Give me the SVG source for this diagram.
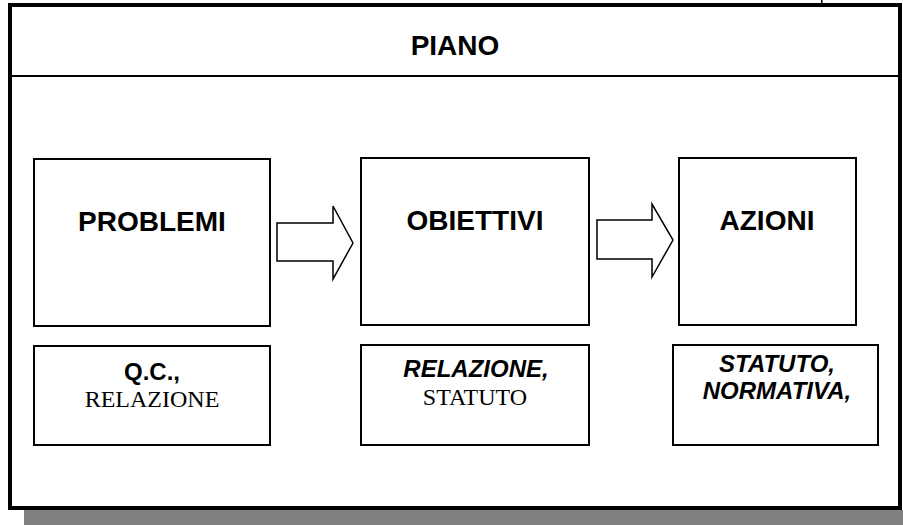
<svg xmlns="http://www.w3.org/2000/svg" width="903" height="525" viewBox="0 0 903 525">
<style>
.box{fill:#fff;stroke:#000;stroke-width:2}
.arrow{fill:#fff;stroke:#000;stroke-width:1.5;stroke-linejoin:miter}
.title{font-family:"Liberation Sans",Arial,sans-serif;font-weight:bold;font-size:28px;text-anchor:middle;fill:#000}
.b{font-family:"Liberation Sans",Arial,sans-serif;font-weight:bold;font-size:24px;text-anchor:middle;fill:#000}
.bi{font-family:"Liberation Sans",Arial,sans-serif;font-weight:bold;font-style:italic;font-size:24px;text-anchor:middle;fill:#000}
.t{font-family:"Liberation Serif","Times New Roman",serif;font-size:24px;text-anchor:middle;fill:#000}
</style>
<rect x="0" y="0" width="903" height="525" fill="#fff"/>
<rect x="24" y="510" width="879" height="15" fill="#808080"/>
<rect x="821" y="0" width="1.5" height="3" fill="#000"/>
<g id="piano">
<rect x="10" y="5" width="890" height="503" fill="#fff" stroke="#000" stroke-width="4"/>
<line x1="10" y1="76" x2="900" y2="76" stroke="#000" stroke-width="2"/>
<text class="title" x="455" y="55">PIANO</text>
</g>
<g id="connectors">
<polygon class="arrow" points="277,223 333,223 333,206 353,243 333,279 333,261 277,261"/>
<polygon class="arrow" points="597,220 652,220 652,204 673,240 652,277 652,259 597,259"/>
</g>
<g id="problemi">
<rect class="box" x="34" y="159" width="236" height="167"/>
<text class="title" x="152" y="231">PROBLEMI</text>
</g>
<g id="obiettivi">
<rect class="box" x="361" y="158" width="228" height="167"/>
<text class="title" x="475" y="230">OBIETTIVI</text>
</g>
<g id="azioni">
<rect class="box" x="679" y="158" width="177" height="167"/>
<text class="title" x="767" y="230">AZIONI</text>
</g>
<g id="qc">
<rect class="box" x="34" y="346" width="236" height="99"/>
<text class="b" x="152" y="380">Q.C.,</text>
<text class="t" x="152" y="407">RELAZIONE</text>
</g>
<g id="relazione">
<rect class="box" x="361" y="345" width="228" height="100"/>
<text class="bi" x="476" y="377">RELAZIONE,</text>
<text class="t" x="475" y="405">STATUTO</text>
</g>
<g id="statuto">
<rect class="box" x="673" y="345" width="205" height="100"/>
<text class="bi" x="777" y="372">STATUTO,</text>
<text class="bi" x="777" y="399">NORMATIVA,</text>
</g>
</svg>
